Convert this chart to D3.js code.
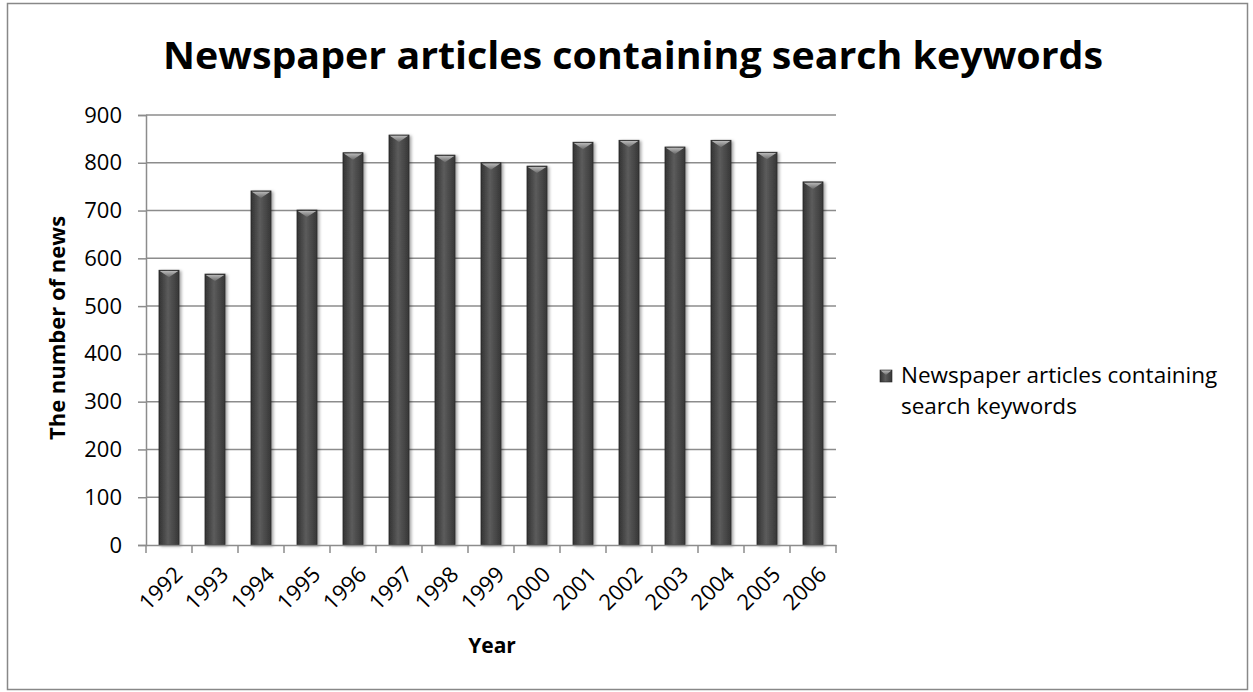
<!DOCTYPE html>
<html>
<head>
<meta charset="utf-8">
<script src="https://cdn.jsdelivr.net/npm/d3@7"></script>
<style>
  body { margin: 0; background: #fff; }
  svg { font-family: "Open Sans", Lato, sans-serif; }
</style>
</head>
<body>
<div id="chart"></div>
<script>
(function(){
const years = ["1992","1993","1994","1995","1996","1997","1998","1999","2000","2001","2002","2003","2004","2005","2006"];
const articles = [575, 567, 741, 701, 821, 858, 816, 800, 793, 843, 847, 833, 847, 822, 760];
const yTicks = [0, 100, 200, 300, 400, 500, 600, 700, 800, 900];
const seriesName = "Newspaper articles containing search keywords";

const W = 1253, H = 692;
const plot = { left: 146, right: 836, top: 115, bottom: 545 };

const svg = d3.select("#chart").append("svg")
    .attr("width", W).attr("height", H);

// Outer frame
svg.append("rect")
    .attr("x", 7.5).attr("y", 3.5)
    .attr("width", W - 13).attr("height", H - 6)
    .attr("fill", "#fff").attr("stroke", "#888").attr("stroke-width", 1.5);

const defs = svg.append("defs");
const g1 = defs.append("linearGradient").attr("id", "barGrad").attr("x1", "0").attr("x2", "1");
g1.append("stop").attr("offset", "0%").attr("stop-color", "#333");
g1.append("stop").attr("offset", "45%").attr("stop-color", "#5c5c5c");
g1.append("stop").attr("offset", "100%").attr("stop-color", "#363636");
const g2 = defs.append("linearGradient").attr("id", "capGrad").attr("x1", "0").attr("x2", "0").attr("y1", "0").attr("y2", "1");
g2.append("stop").attr("offset", "0%").attr("stop-color", "#b8b8b8");
g2.append("stop").attr("offset", "100%").attr("stop-color", "#6a6a6a");
const sh = defs.append("filter").attr("id", "shadow").attr("x", "-30%").attr("y", "-10%").attr("width", "160%").attr("height", "120%");
sh.append("feDropShadow").attr("dx", 2).attr("dy", 1).attr("stdDeviation", 1.5).attr("flood-color", "#000").attr("flood-opacity", 0.35);

// Scales
const x = d3.scaleBand().domain(years).range([plot.left, plot.right]).paddingInner(0).paddingOuter(0);
const y = d3.scaleLinear().domain([0, 900]).range([plot.bottom, plot.top]);

// Gridlines
svg.append("g")
    .selectAll("line").data(yTicks.filter(d => d > 0)).enter().append("line")
    .attr("x1", plot.left).attr("x2", plot.right)
    .attr("y1", d => y(d)).attr("y2", d => y(d))
    .attr("stroke", "#8c8c8c").attr("stroke-width", 1.5);

// Y axis
const yAxis = svg.append("g")
    .attr("transform", `translate(${plot.left},0)`)
    .call(d3.axisLeft(y).tickValues(yTicks).tickSize(8).tickPadding(16));
yAxis.select(".domain").attr("stroke", "#8c8c8c").attr("stroke-width", 1.5);
yAxis.selectAll(".tick line").attr("stroke", "#8c8c8c").attr("stroke-width", 1.5);
yAxis.selectAll(".tick text").style("font-size", "22px").attr("fill", "#000")
    .style("font-family", "'Open Sans', sans-serif");

// Bars
const bw = 20;
const bars = svg.append("g").selectAll("g.bar").data(years).enter().append("g").attr("class", "bar");
bars.append("rect")
    .attr("x", d => x(d) + x.bandwidth() / 2 - bw / 2)
    .attr("y", (d, i) => y(articles[i]))
    .attr("width", bw)
    .attr("height", (d, i) => y(0) - y(articles[i]))
    .attr("fill", "url(#barGrad)")
    .attr("stroke", "#262626").attr("stroke-width", 0.8)
    .attr("filter", "url(#shadow)");
bars.append("path")
    .attr("d", (d, i) => {
        const x0 = x(d) + x.bandwidth() / 2 - bw / 2, t = y(articles[i]);
        return `M${x0 + 0.8},${t + 0.8} L${x0 + bw - 0.8},${t + 0.8} L${x0 + bw / 2},${t + 7} Z`;
    })
    .attr("fill", "url(#capGrad)");

// X axis
const xAxis = svg.append("g")
    .attr("transform", `translate(0,${plot.bottom})`)
    .call(d3.axisBottom(x).tickSize(0).tickFormat(""));
xAxis.select(".domain").attr("stroke", "#8c8c8c").attr("stroke-width", 1.5);
svg.append("g").selectAll("line").data(years.concat(["end"])).enter().append("line")
    .attr("x1", (d, i) => plot.left + i * x.bandwidth())
    .attr("x2", (d, i) => plot.left + i * x.bandwidth())
    .attr("y1", plot.bottom).attr("y2", plot.bottom + 8)
    .attr("stroke", "#8c8c8c").attr("stroke-width", 1.5);
svg.append("g").selectAll("text").data(years).enter().append("text")
    .attr("transform", d => `translate(${x(d) + x.bandwidth() / 2 + 4},${plot.bottom + 20}) rotate(-45)`)
    .attr("text-anchor", "end")
    .attr("dy", "0.7em")
    .style("font-size", "22px")
    .text(d => d);

// Axis titles
svg.append("text")
    .attr("transform", `translate(65,328) rotate(-90)`)
    .attr("text-anchor", "middle")
    .style("font-size", "22px").style("font-weight", "bold")
    .text("The number of news");
svg.append("text")
    .attr("x", 492).attr("y", 653)
    .attr("text-anchor", "middle")
    .style("font-size", "21px").style("font-weight", "bold")
    .text("Year");

// Title
svg.append("text")
    .attr("x", 633).attr("y", 69)
    .attr("text-anchor", "middle")
    .attr("textLength", 940).attr("lengthAdjust", "spacingAndGlyphs")
    .style("font-size", "37px").style("font-weight", "bold")
    .text(seriesName);

// Legend
const lg = svg.append("g").attr("transform", "translate(880,370)");
lg.append("rect").attr("width", 12).attr("height", 12)
    .attr("fill", "url(#barGrad)").attr("stroke", "#262626").attr("stroke-width", 0.6);
lg.append("path").attr("d", "M0.6,0.6 L11.4,0.6 L6,5 Z").attr("fill", "url(#capGrad)");
lg.append("text").attr("x", 21).attr("y", 13).style("font-size", "22.5px").text("Newspaper articles containing");
lg.append("text").attr("x", 21).attr("y", 44).style("font-size", "22.5px").text("search keywords");
})();
</script>
</body>
</html>
